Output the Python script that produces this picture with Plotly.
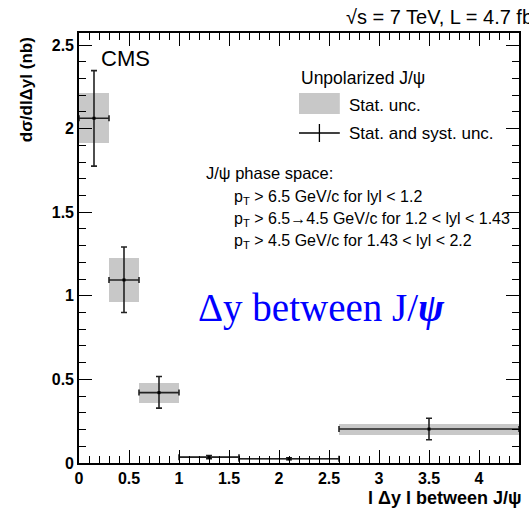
import plotly.graph_objects as go

# ---- data ----
bin_lo = [0.0, 0.3, 0.6, 1.0, 1.6, 2.6]
bin_hi = [0.3, 0.6, 1.0, 1.6, 2.6, 4.4]
x_center = [0.15, 0.45, 0.8, 1.3, 2.1, 3.5]
value = [2.062, 1.095, 0.421, 0.035, 0.025, 0.203]
stat_unc = [0.149, 0.129, 0.060, 0.008, 0.004, 0.033]
tot_up = [0.285, 0.197, 0.096, 0.010, 0.006, 0.065]
tot_down = [0.286, 0.195, 0.093, 0.010, 0.006, 0.064]

x_ticks = [0, 0.5, 1, 1.5, 2, 2.5, 3, 3.5, 4]
x_tick_labels = ["0", "0.5", "1", "1.5", "2", "2.5", "3", "3.5", "4"]
y_ticks = [0, 0.5, 1, 1.5, 2, 2.5]
y_tick_labels = ["0", "0.5", "1", "1.5", "2", "2.5"]

W, H = 529, 514
L, R, T, B = 79, 8, 33, 51
PW, PH = W - L - R, H - T - B


def px(x):
    return (x - L) / PW


def py(y):
    return (H - B - y) / PH


widths = [h - l for l, h in zip(bin_lo, bin_hi)]
half = [w / 2 for w in widths]
base = [v - s for v, s in zip(value, stat_unc)]
box_h = [2 * s for s in stat_unc]

fig = go.Figure()
fig.add_trace(go.Bar(
    x=x_center, y=box_h, base=base, width=widths,
    marker=dict(color="#c8c8c8", line=dict(width=0)),
    showlegend=False, hoverinfo="skip",
))
fig.add_trace(go.Scatter(
    x=x_center, y=value, mode="markers",
    marker=dict(symbol="square", size=3, color="black"),
    error_x=dict(type="data", array=half, symmetric=True, color="#222",
                 thickness=1.6, width=3),
    error_y=dict(type="data", array=tot_up, arrayminus=tot_down, symmetric=False,
                 color="#222", thickness=1.6, width=3),
    showlegend=False,
))

tickfont = dict(family="Liberation Sans", size=16, color="black")
axis_common = dict(
    showgrid=False, zeroline=False, showline=True, linecolor="black", linewidth=1.6,
    mirror="allticks", ticks="inside", ticklen=13, tickwidth=1.3, tickcolor="black",
    tickfont=tickfont,
)
fig.update_xaxes(
    range=[0, 4.4], tickvals=x_ticks, ticktext=[f"<b>{t}</b>" for t in x_tick_labels],
    minor=dict(dtick=0.1, ticks="inside", ticklen=7, tickwidth=1.1, tickcolor="black"),
    **axis_common,
)
fig.update_yaxes(
    range=[0, 2.572], tickvals=y_ticks, ticktext=[f"<b>{t}</b>" for t in y_tick_labels],
    minor=dict(dtick=0.1, ticks="inside", ticklen=7, tickwidth=1.1, tickcolor="black"),
    **axis_common,
)

sans = "Liberation Sans"
ann = []


def text(x, y, s, size=14, xanchor="left", yanchor="middle", color="black",
         family=sans, angle=0):
    ann.append(dict(x=px(x), y=py(y), xref="paper", yref="paper", text=s,
                    showarrow=False, xanchor=xanchor, yanchor=yanchor,
                    textangle=angle, font=dict(family=family, size=size, color=color)))


text(345, 15, "√s = 7 TeV, L = 4.7 fb<sup>-1</sup>", size=20)
text(99, 58, "CMS", size=22)
text(300, 78, "Unpolarized J/ψ", size=17.5)
text(348, 105, "Stat. unc.", size=17)
text(348, 133, "Stat. and syst. unc.", size=17)
text(205, 173, "J/ψ phase space:", size=16.5)
text(233, 197, "p<sub>T</sub> > 6.5 GeV/c for lyl < 1.2", size=16)
text(233, 219, "p<sub>T</sub> > 6.5→4.5 GeV/c for 1.2 < lyl < 1.43", size=16)
text(233, 241, "p<sub>T</sub> > 4.5 GeV/c for 1.43 < lyl < 2.2", size=16)
text(197, 308, "Δy between J/<b><i>ψ</i></b>", size=39, color="#0000ff",
     family="Liberation Serif")
text(526, 498, "<b>l Δy l between J/ψ</b>", size=18, xanchor="right")
text(26, 90, "<b>dσ/dlΔyl (nb)</b>", size=17, xanchor="center", angle=-90)

shapes = [
    dict(type="rect", xref="paper", yref="paper", x0=px(300), x1=px(341),
         y0=py(114), y1=py(93), fillcolor="#c8c8c8", line=dict(width=0)),
    dict(type="line", xref="paper", yref="paper", x0=px(300), x1=px(341),
         y0=py(133), y1=py(133), line=dict(color="black", width=1.3)),
    dict(type="line", xref="paper", yref="paper", x0=px(320.5), x1=px(320.5),
         y0=py(124), y1=py(142), line=dict(color="black", width=1.3)),
]

fig.update_layout(
    width=W, height=H, margin=dict(l=L, r=R, t=T, b=B, pad=0),
    plot_bgcolor="white", paper_bgcolor="white",
    annotations=ann, shapes=shapes, bargap=0,
)

fig.write_html("out.html", config={"displayModeBar": False},
               post_script="document.body.style.margin='0';document.body.style.overflow='hidden';")
